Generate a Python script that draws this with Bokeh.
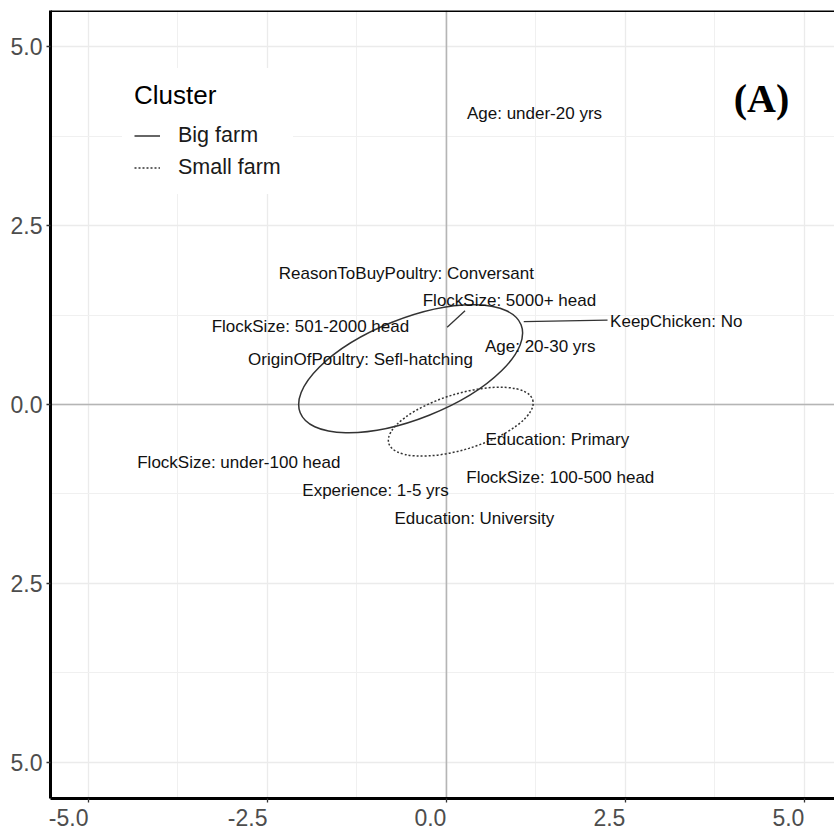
from bokeh.plotting import figure
from bokeh.models import (Range1d, FixedTicker, Span, Legend, LegendItem,
                          ColumnDataSource, Label)
from bokeh.core.properties import value
from bokeh.embed import file_html
from bokeh.resources import INLINE

# ---------------- data ----------------
label_text = [
    "Age: under-20 yrs",
    "ReasonToBuyPoultry: Conversant",
    "FlockSize: 5000+ head",
    "FlockSize: 501-2000 head",
    "KeepChicken: No",
    "Age: 20-30 yrs",
    "OriginOfPoultry: Sefl-hatching",
    "Education: Primary",
    "FlockSize: under-100 head",
    "FlockSize: 100-500 head",
    "Experience: 1-5 yrs",
    "Education: University",
]
label_x = [1.23, -0.56, 0.88, -1.90, 3.21, 1.31, -1.20, 1.55, -2.90, 1.59, -0.99, 0.39]
label_y = [4.07, 1.83, 1.45, 1.09, 1.16, 0.81, 0.63, -0.49, -0.81, -1.02, -1.20, -1.59]

# connector segments (point -> label)
seg_x0 = [1.08, 0.01]
seg_y0 = [1.16, 1.08]
seg_x1 = [2.25, 0.26]
seg_y1 = [1.18, 1.31]

# cluster ellipses
cluster_names = ["Big farm", "Small farm"]
ell_cx = [-0.50, 0.20]
ell_cy = [0.50, -0.24]
ell_w = [3.32, 2.10]
ell_h = [1.40, 0.78]
ell_angle = [21.7, 16.8]

x_ticks = [-5.0, -2.5, 0.0, 2.5, 5.0]
x_tick_labels = ["-5.0", "-2.5", "0.0", "2.5", "5.0"]
y_ticks = [-5.0, -2.5, 0.0, 2.5, 5.0]
y_tick_labels = ["5.0", "2.5", "0.0", "2.5", "5.0"]
minor_ticks = [-3.75, -1.25, 1.25, 3.75]

FONT = "Liberation Sans"
NAN = float("nan")
X_MIN, X_MAX = -5.53, 5.42
Y_MIN, Y_MAX = -5.51, 5.51
FRAME_W = 784

# x tick labels end at their tick (right-aligned look): label centre is shifted
# left by half the rendered label width (px, 23px Liberation Sans)
half_label_px = [19.8, 19.8, 16.0, 16.0, 16.0]
px_per_unit = FRAME_W / (X_MAX - X_MIN)
x_label_pos = [t - h / px_per_unit for t, h in zip(x_ticks, half_label_px)]

p = figure(width=834, height=834,
           x_range=Range1d(X_MIN, X_MAX), y_range=Range1d(Y_MIN, Y_MAX),
           output_backend="svg", toolbar_location=None,
           min_border_left=50, min_border_right=0,
           min_border_top=10, min_border_bottom=36)
p.outline_line_color = None
p.background_fill_color = "white"
p.border_fill_color = "white"

# axes: x labels sit on shifted "major" positions, real ticks drawn as minor ticks
p.xaxis.ticker = FixedTicker(ticks=x_label_pos, minor_ticks=x_ticks)
p.xaxis.major_label_overrides = {t: l for t, l in zip(x_label_pos, x_tick_labels)}
p.yaxis.ticker = FixedTicker(ticks=y_ticks, minor_ticks=minor_ticks)
p.yaxis.major_label_overrides = {t: l for t, l in zip(y_ticks, y_tick_labels)}

p.xgrid.ticker = FixedTicker(ticks=x_ticks, minor_ticks=minor_ticks)
p.ygrid.ticker = FixedTicker(ticks=y_ticks, minor_ticks=minor_ticks)
for g in (p.xgrid, p.ygrid):
    g.grid_line_color = "#EBEBEB"
    g.grid_line_width = 1.3
    g.minor_grid_line_color = "#F0F0F0"
    g.minor_grid_line_width = 1.0

for ax in (p.xaxis, p.yaxis):
    ax.axis_line_color = "black"
    ax.axis_line_width = 3
    ax.major_tick_out = 4
    ax.major_tick_in = 0
    ax.minor_tick_out = 0
    ax.minor_tick_in = 0
    ax.major_tick_line_color = "#333333"
    ax.major_tick_line_width = 1.3
    ax.major_label_text_font = FONT
    ax.major_label_text_font_size = "23px"
    ax.major_label_text_color = "#4D4D4D"
p.yaxis.major_label_standoff = 4
p.xaxis.major_tick_line_alpha = 0
p.xaxis.minor_tick_out = 4
p.xaxis.minor_tick_line_color = "#333333"
p.xaxis.minor_tick_line_width = 1.3
p.xaxis.major_label_standoff = 6

# zero lines
p.add_layout(Span(location=0, dimension="height", line_color="#B5B5B5",
                  line_width=1.6, level="underlay"))
p.add_layout(Span(location=0, dimension="width", line_color="#B5B5B5",
                  line_width=1.6, level="underlay"))
# top border
p.add_layout(Span(location=Y_MAX, dimension="width", line_color="black", line_width=3))

# ellipses
dashes = ["solid", "2 2"]
for i in range(len(cluster_names)):
    p.ellipse(x=[ell_cx[i]], y=[ell_cy[i]], width=[ell_w[i]], height=[ell_h[i]],
              angle=[ell_angle[i]], angle_units="deg", fill_alpha=0,
              line_color="#333333", line_width=1.5, line_dash=dashes[i])

# segments
p.segment(x0=seg_x0, y0=seg_y0, x1=seg_x1, y1=seg_y1,
          line_color="#333333", line_width=1.3)

# labels
src = ColumnDataSource(dict(x=label_x, y=label_y, text=label_text))
p.text(x="x", y="y", text="text", source=src, text_font=value(FONT),
       text_font_size="17px", text_align="center", text_baseline="middle",
       text_color="#111111")

p.add_layout(Label(x=4.40, y=4.28, text="(A)", text_font="Liberation Serif",
                   text_font_style="bold", text_font_size="40px",
                   text_align="center", text_baseline="alphabetic",
                   text_color="black"))

# legend (key renderers carry no visible data)
r_big = p.line(x=[NAN, NAN], y=[NAN, NAN], line_color="#333333", line_width=1.5)
r_small = p.line(x=[NAN, NAN], y=[NAN, NAN], line_color="#333333", line_width=1.5,
                 line_dash="2 2")
legend = Legend(items=[LegendItem(label=cluster_names[0], renderers=[r_big]),
                       LegendItem(label=cluster_names[1], renderers=[r_small])],
                title="Cluster", location=(72, 604))
legend.title_text_font = FONT
legend.title_text_font_size = "26px"
legend.title_text_font_style = "normal"
legend.title_text_color = "black"
legend.label_text_font = FONT
legend.label_text_font_size = "21.5px"
legend.label_text_color = "#1A1A1A"
legend.glyph_width = 26
legend.glyph_height = 29
legend.label_height = 29
legend.label_standoff = 18
legend.spacing = 3
legend.padding = 12
legend.title_standoff = 10
legend.margin = 0
legend.border_line_alpha = 0
legend.background_fill_alpha = 1.0
p.add_layout(legend)

open("out.html", "w").write(file_html(p, INLINE))
